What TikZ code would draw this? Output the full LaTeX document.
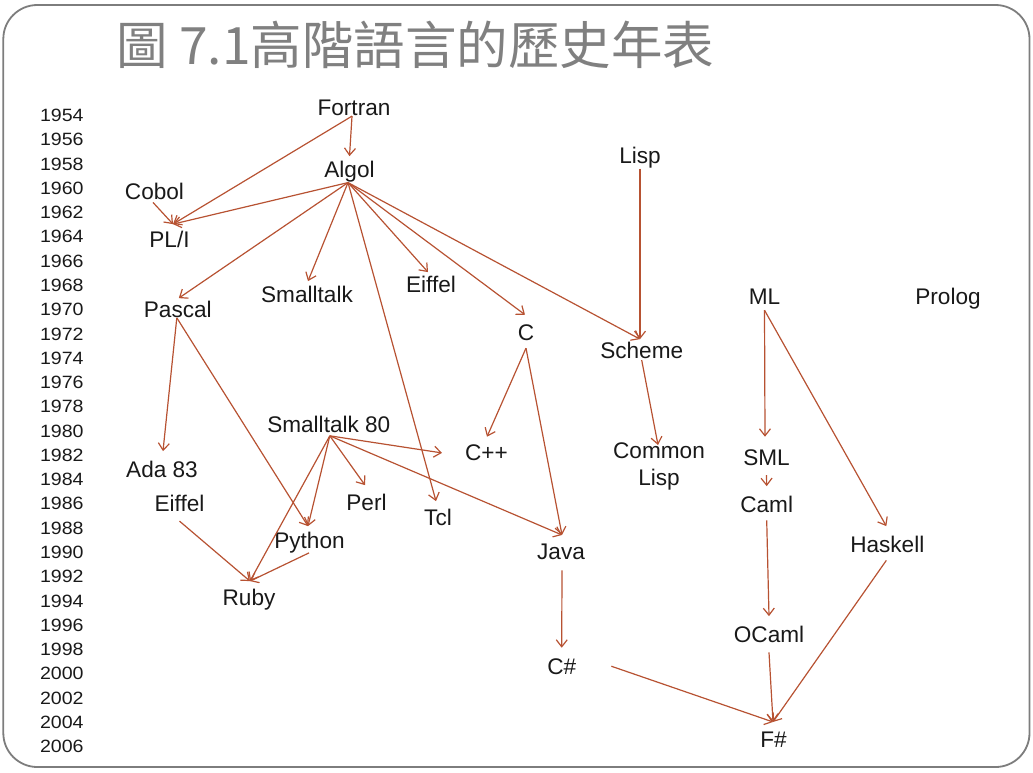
\documentclass[tikz,border=0pt]{standalone}
\usepackage{fontspec}
\setmainfont{Liberation Sans}
\newfontfamily\cjkfont{Noto Sans CJK TC}
\newfontfamily\yearfont[FakeStretch=1.1]{Liberation Sans}
\usetikzlibrary{arrows.meta}
\definecolor{arrowc}{RGB}{183,82,50}
\definecolor{framec}{RGB}{125,125,125}
\definecolor{titlec}{RGB}{128,128,128}
\definecolor{textc}{RGB}{25,25,25}
\begin{document}
\begin{tikzpicture}[x=1pt,y=-1pt,
  lang/.style={font=\fontsize{22.6}{27}\selectfont, text=textc, inner sep=0pt, anchor=base},
  yr/.style={font=\yearfont\fontsize{17.8}{19}\selectfont, text=textc, anchor=east, inner sep=0pt},
  link/.style={draw=arrowc, line width=1.2pt, -{Straight Barb[length=7pt,width=11pt]}},
  frame/.style={draw=framec, line width=1.8pt, rounded corners=34pt}]
\useasboundingbox (0,0) rectangle (1033,772);
\draw[frame] (3.3,5) rectangle (1029.5,767);
\node[font=\cjkfont\fontsize{51.5}{56}\selectfont, text=titlec, anchor=base west, inner sep=0pt] (title) at (116,64.5) {圖 7.1高階語言的歷史年表};
% years
\foreach \i in {0,...,26} {
  \pgfmathtruncatemacro{\yv}{1954+2*\i}
  \node[yr] (yr\yv) at (83.8,{115.5+24.27*\i}) {\yv};
}
% languages
\node[lang] (fortran) at (354,115.7) {Fortran};
\node[lang] (algol) at (349.5,177.7) {Algol};
\node[lang] (lisp) at (640,163.7) {Lisp};
\node[lang] (cobol) at (154.5,199) {Cobol};
\node[lang] (pli) at (169.5,247.4) {PL/I};
\node[lang] (smalltalk) at (307,302.4) {Smalltalk};
\node[lang] (eiffelA) at (431,292.7) {Eiffel};
\node[lang] (c) at (526,340.7) {C};
\node[lang] (scheme) at (641.7,358.7) {Scheme};
\node[lang] (ml) at (764.5,304) {ML};
\node[lang] (prolog) at (948,304) {Prolog};
\node[lang] (pascal) at (177.8,317.4) {Pascal};
\node[lang] (st80) at (328.8,432.4) {Smalltalk 80};
\node[lang] (cpp) at (486.5,460.7) {C++};
\node[lang, anchor=north, align=center] (commonlisp) at (659,443) {Common\\Lisp};
\node[lang] (sml) at (766.5,465.7) {SML};
\node[lang] (ada) at (162,477.4) {Ada 83};
\node[lang] (eiffelB) at (179.5,511.7) {Eiffel};
\node[lang] (perl) at (366.5,510.7) {Perl};
\node[lang] (tcl) at (438,525.7) {Tcl};
\node[lang] (caml) at (766.7,512.4) {Caml};
\node[lang] (python) at (309.5,548) {Python};
\node[lang] (java) at (561,559) {Java};
\node[lang] (haskell) at (887.3,552.4) {Haskell};
\node[lang] (ruby) at (249,605.7) {Ruby};
\node[lang] (ocaml) at (769,642.4) {OCaml};
\node[lang] (csharp) at (561.7,674) {C\#};
\node[lang] (fsharp) at (773.5,747.4) {F\#};
% connectors
\draw[link] ([xshift=-2pt]fortran.south) -- ([yshift=5pt]algol.north);
\draw[link] ([xshift=-2pt]fortran.south) -- ([xshift=3.5pt,yshift=6.7pt]pli.north);
\draw[link] ([xshift=-1.5pt,yshift=-3pt]cobol.south) -- ([xshift=3.5pt,yshift=6.7pt]pli.north);
\draw[link] ([xshift=-1.5pt]algol.south) -- ([xshift=3.5pt,yshift=6.7pt]pli.north);
\draw[link] ([xshift=-1.5pt]algol.south) -- ([xshift=1pt,yshift=2.7pt]pascal.north);
\draw[link] ([xshift=-1.5pt]algol.south) -- ([xshift=1pt,yshift=4.7pt]smalltalk.north);
\draw[link] ([xshift=-1.5pt]algol.south) -- ([xshift=-2pt,yshift=8pt]tcl.north);
\draw[link] ([xshift=-1.5pt]algol.south) -- ([xshift=-3pt,yshift=4pt]eiffelA.north);
\draw[link] ([xshift=-1.5pt]algol.south) -- ([xshift=-1pt,yshift=10pt]c.north);
\draw[link] ([xshift=-1.5pt]algol.south) -- ([xshift=-1.7pt,yshift=3pt]scheme.north);
\draw[link] (lisp.south) -- ([xshift=-1.7pt,yshift=3pt]scheme.north);
\draw[link] ([yshift=-1pt]scheme.south) -- ([xshift=-1pt,yshift=-2pt]commonlisp.north);
\draw[link] ([yshift=-7pt]c.south) -- ([xshift=0.5pt,yshift=8pt]cpp.north);
\draw[link] ([yshift=-7pt]c.south) -- ([xshift=1pt,yshift=8.3pt]java.north);
\draw[link] ([xshift=-1pt]pascal.south) -- ([xshift=1pt,yshift=9.7pt]ada.north);
\draw[link] ([xshift=-1pt]pascal.south) -- ([xshift=-1.5pt,yshift=5.3pt]python.north);
\draw[link] ([xshift=1pt,yshift=-3pt]st80.south) -- ([xshift=-23pt]cpp.west);
\draw[link] ([xshift=1pt,yshift=-3pt]st80.south) -- ([xshift=1pt,yshift=8.3pt]java.north);
\draw[link] ([xshift=1pt,yshift=-3pt]st80.south) -- ([xshift=-1.5pt,yshift=9pt]perl.north);
\draw[link] ([xshift=1pt,yshift=-3pt]st80.south) -- ([xshift=-1.5pt,yshift=5.3pt]python.north);
\draw[link] ([xshift=1pt,yshift=-3pt]st80.south) -- ([xshift=1pt,yshift=8pt]ruby.north);
\draw[link] ([yshift=-9pt]eiffelB.south) -- ([xshift=1pt,yshift=8pt]ruby.north);
\draw[link] ([xshift=-0.5pt]python.south) -- ([xshift=1pt,yshift=8pt]ruby.north);
\draw[link] ([xshift=1pt,yshift=-11pt]java.south) -- ([yshift=10.3pt]csharp.north);
\draw[link] ([xshift=35pt]csharp.east) -- ([xshift=-0.5pt,yshift=9.7pt]fsharp.north);
\draw[link] ([yshift=-6pt]ml.south) -- ([xshift=-1.5pt,yshift=13pt]sml.north);
\draw[link] ([yshift=-6pt]ml.south) -- ([xshift=-1pt,yshift=9.7pt]haskell.north);
\draw[link] ([yshift=-9pt]sml.south) -- ([yshift=9.7pt]caml.north);
\draw[link] ([yshift=-7.6pt]caml.south) -- ([yshift=9.7pt]ocaml.north);
\draw[link] ([yshift=-9.6pt]ocaml.south) -- ([xshift=-0.5pt,yshift=9.7pt]fsharp.north);
\draw[link] ([xshift=-1pt,yshift=-7.6pt]haskell.south) -- ([xshift=-0.5pt,yshift=9.7pt]fsharp.north);
\end{tikzpicture}
\end{document}
